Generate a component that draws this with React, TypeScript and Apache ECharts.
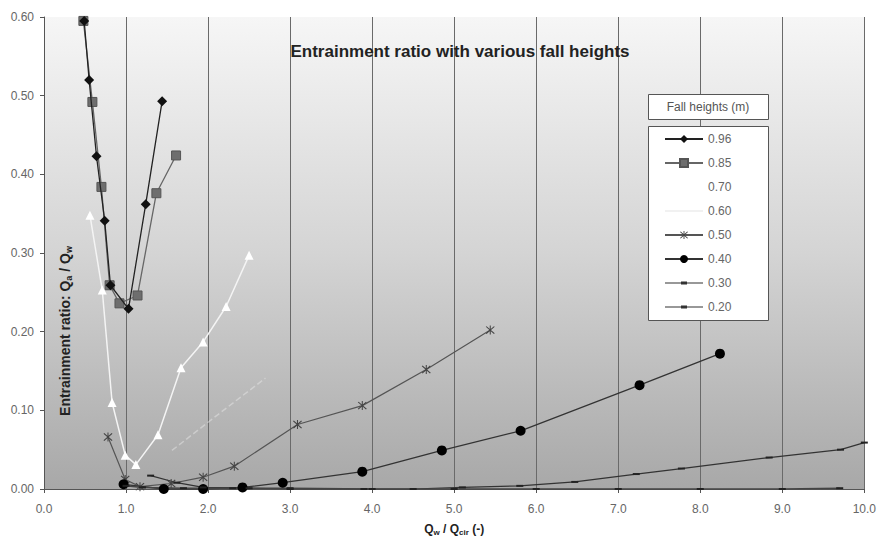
import React, { useEffect, useRef } from "react";
import * as echarts from "echarts";

const seriesNames = ["0.96", "0.85", "0.70", "0.60", "0.50", "0.40", "0.30", "0.20"];

const h096: number[][] = [
  [0.49, 0.595], [0.55, 0.52], [0.64, 0.423], [0.74, 0.341], [0.81, 0.259], [1.03, 0.229], [1.24, 0.362], [1.44, 0.493],
];
const h085: number[][] = [
  [0.48, 0.595], [0.59, 0.492], [0.70, 0.384], [0.80, 0.259], [0.92, 0.236], [1.14, 0.246], [1.37, 0.376], [1.61, 0.424],
];
const h070: number[][] = [
  [1.56, 0.049], [2.1, 0.093], [2.7, 0.141],
];
const h060: number[][] = [
  [0.56, 0.348], [0.71, 0.253], [0.83, 0.110], [0.99, 0.043], [1.12, 0.031], [1.39, 0.069], [1.67, 0.154], [1.94, 0.187], [2.22, 0.232], [2.50, 0.297],
];
const h050: number[][] = [
  [0.78, 0.066], [0.99, 0.012], [1.17, 0.003], [1.55, 0.007], [1.94, 0.015], [2.32, 0.029], [3.09, 0.082], [3.88, 0.106], [4.66, 0.152], [5.44, 0.202],
];
const h040: number[][] = [
  [0.97, 0.006], [1.46, 0.0], [1.94, 0.0], [2.42, 0.002], [2.91, 0.008], [3.88, 0.022], [4.85, 0.049], [5.81, 0.074], [7.26, 0.132], [8.24, 0.172],
];
const h030: number[][] = [
  [1.30, 0.017], [1.62, 0.008], [1.94, 0.002], [2.5, 0.001], [3.0, 0.0], [3.9, 0.0], [4.5, 0.0], [5.1, 0.002], [5.8, 0.004], [6.47, 0.009], [7.22, 0.019], [7.77, 0.026], [8.84, 0.040], [9.71, 0.050], [10.0, 0.059],
];
const h020: number[][] = [
  [1.0, 0.004], [1.2, 0.002], [1.7, 0.001], [2.3, 0.001], [3.0, 0.001], [4.0, 0.0], [5.0, 0.0], [6.0, 0.0], [7.0, 0.0], [8.0, 0.0], [9.0, 0.0], [9.7, 0.001],
];

const asterisk =
  "path://M4.5,0H5.5V10H4.5Z M0.6,1.4L1.4,0.6L9.4,8.6L8.6,9.4Z M8.6,0.6L9.4,1.4L1.4,9.4L0.6,8.6Z";
const dashIcon = "path://M0,4.4H38V5.6H0Z M16,3.6H22V6.4H16Z";
const lineIcon = "path://M0,4.4H38V5.6H0Z";

const FONT = "Liberation Sans, Arial, sans-serif";

export default function App() {
  const ref = useRef<HTMLDivElement>(null);
  useEffect(() => {
    if (!ref.current) return;
    const chart = echarts.init(ref.current, undefined, { renderer: "svg" });
    const bg = new echarts.graphic.LinearGradient(0, 0, 0, 1, [
      { offset: 0, color: "#f6f6f6" },
      { offset: 0.5, color: "#d4d4d4" },
      { offset: 1, color: "#a8a8a8" },
    ]);
    chart.setOption({
      animation: false,
      backgroundColor: "#ffffff",
      textStyle: { fontFamily: FONT },
      grid: {
        left: 44,
        right: 10,
        top: 17,
        bottom: 49,
        show: true,
        backgroundColor: bg,
        borderWidth: 0,
      },
      title: {
        text: "Entrainment ratio with various fall heights",
        left: 455,
        top: 38,
        textAlign: "center",
        textStyle: { fontSize: 17, fontWeight: "bold", color: "#222", fontFamily: FONT },
      },
      xAxis: {
        type: "value",
        min: 0,
        max: 10,
        interval: 1,
        name: "{b|Q}{s|w}{b| / Q}{s|cir}{b| (-)}",
        nameLocation: "middle",
        nameGap: 33,
        nameTextStyle: {
          rich: {
            b: { fontSize: 12, fontWeight: "bold", color: "#222", fontFamily: FONT },
            s: { fontSize: 8, fontWeight: "bold", color: "#222", fontFamily: FONT, verticalAlign: "bottom", padding: [6, 0, 0, 0] },
          },
        },
        axisLine: { show: true, lineStyle: { color: "#555", width: 1 } },
        axisTick: { show: true, length: 4, lineStyle: { color: "#555" } },
        axisLabel: {
          margin: 14,
          color: "#666",
          fontSize: 12,
          fontFamily: FONT,
          formatter: (v: number) => v.toFixed(1),
        },
        splitLine: { show: true, lineStyle: { color: "#6a6a6a", width: 1 } },
      },
      yAxis: {
        type: "value",
        min: 0,
        max: 0.6,
        interval: 0.1,
        axisLine: { show: true, lineStyle: { color: "#555", width: 1 } },
        axisTick: { show: true, length: 4, lineStyle: { color: "#555" } },
        axisLabel: {
          margin: 10,
          color: "#666",
          fontSize: 12,
          fontFamily: FONT,
          formatter: (v: number) => v.toFixed(2),
        },
        splitLine: { show: false },
      },
      legend: {
        orient: "vertical",
        left: 664,
        top: 133,
        itemWidth: 38,
        itemHeight: 10,
        itemGap: 12,
        padding: 0,
        z: 10,
        data: [
          { name: "0.96" },
          { name: "0.85" },
          { name: "0.70", itemStyle: { opacity: 0 }, lineStyle: { opacity: 0 } },
          { name: "0.60", icon: lineIcon, itemStyle: { color: "#e4e4e4" } },
          { name: "0.50" },
          { name: "0.40" },
          { name: "0.30", icon: dashIcon, itemStyle: { color: "#333" } },
          { name: "0.20", icon: dashIcon, itemStyle: { color: "#333" } },
        ],
        textStyle: { color: "#666", fontSize: 12, fontFamily: FONT, lineHeight: 12 },
      },
      graphic: [
        {
          type: "rect",
          z: 5,
          shape: { x: 648.5, y: 94.5, width: 120, height: 25 },
          style: { fill: "#ffffff", stroke: "#555", lineWidth: 1 },
        },
        {
          type: "text",
          z: 6,
          x: 708,
          y: 107,
          style: {
            text: "Fall heights (m)",
            fill: "#555",
            fontSize: 12,
            fontFamily: FONT,
            textAlign: "center",
            textVerticalAlign: "middle",
          },
        },
        {
          type: "rect",
          z: 5,
          shape: { x: 648.5, y: 126.5, width: 120, height: 194 },
          style: { fill: "#ffffff", stroke: "#555", lineWidth: 1 },
        },
        {
          type: "text",
          z: 6,
          x: 65,
          y: 331,
          rotation: Math.PI / 2,
          style: {
            text: "{b|Entrainment ratio: Q}{s|a}{b| / Q}{s|w}",
            textAlign: "center",
            textVerticalAlign: "middle",
            rich: {
              b: { fontSize: 14, fontWeight: "bold", fill: "#222", fontFamily: FONT },
              s: { fontSize: 9, fontWeight: "bold", fill: "#222", fontFamily: FONT, padding: [7, 0, 0, 0] },
            },
          },
        },
      ],
      series: [
        {
          name: "0.96",
          type: "line",
          data: h096,
          symbol: "diamond",
          symbolSize: 10,
          itemStyle: { color: "#111" },
          lineStyle: { color: "#222", width: 1.3 },
          z: 4,
        },
        {
          name: "0.85",
          type: "line",
          data: h085,
          symbol: "rect",
          symbolSize: 9,
          itemStyle: { color: "#6e6e6e", borderColor: "#555", borderWidth: 1 },
          lineStyle: { color: "#666", width: 1.3 },
          z: 3,
        },
        {
          name: "0.70",
          type: "line",
          data: h070,
          symbol: "none",
          showSymbol: false,
          itemStyle: { color: "rgba(255,255,255,0)" },
          lineStyle: { color: "rgba(235,235,235,0.45)", width: 1.5, type: "dashed" },
        },
        {
          name: "0.60",
          type: "line",
          data: h060,
          symbol: "triangle",
          symbolSize: 9,
          itemStyle: { color: "#ffffff" },
          lineStyle: { color: "#f4f4f4", width: 1.5 },
        },
        {
          name: "0.50",
          type: "line",
          data: h050,
          symbol: asterisk,
          symbolSize: 9,
          itemStyle: { color: "#444" },
          lineStyle: { color: "#555", width: 1.2 },
        },
        {
          name: "0.40",
          type: "line",
          data: h040,
          symbol: "circle",
          symbolSize: 10,
          itemStyle: { color: "#000" },
          lineStyle: { color: "#333", width: 1.3 },
        },
        {
          name: "0.30",
          type: "line",
          data: h030,
          symbol: "rect",
          symbolSize: [7, 2],
          itemStyle: { color: "#222" },
          lineStyle: { color: "#333", width: 1.2 },
        },
        {
          name: "0.20",
          type: "line",
          data: h020,
          symbol: "rect",
          symbolSize: [7, 2],
          itemStyle: { color: "#222" },
          lineStyle: { color: "#444", width: 1.5 },
        },
      ],
    });
    return () => chart.dispose();
  }, []);
  return <div ref={ref} style={{ width: 879, height: 541, position: "fixed", left: 0, top: 0 }} />;
}
